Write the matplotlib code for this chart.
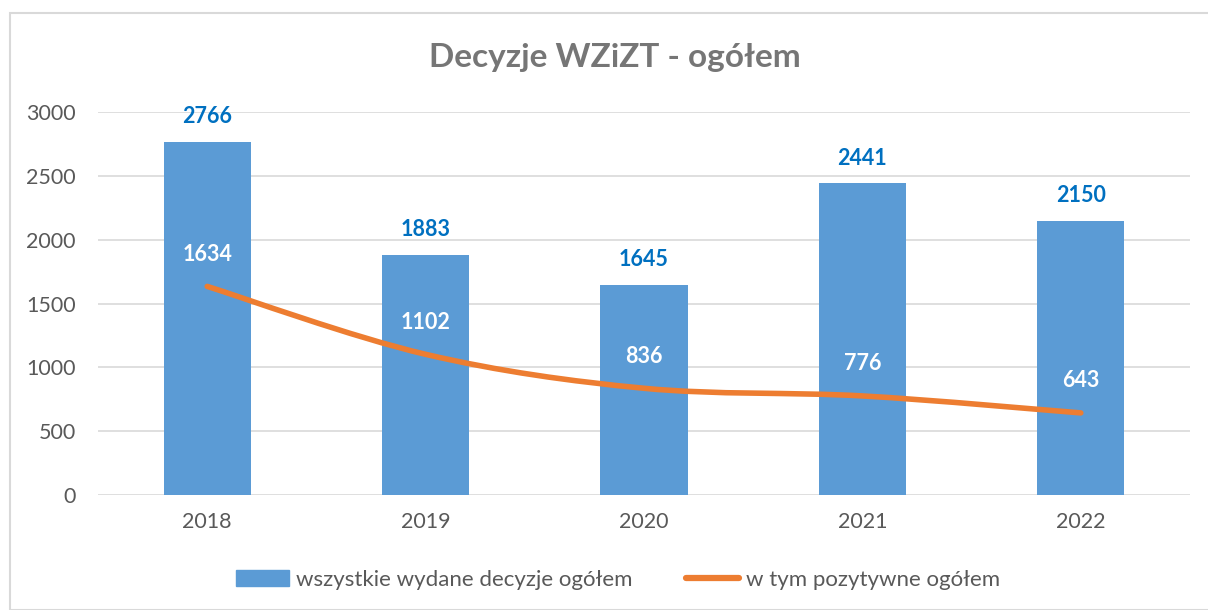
import matplotlib
matplotlib.use("Agg")
import matplotlib.pyplot as plt
from matplotlib.patches import Rectangle
from matplotlib.path import Path
from matplotlib.patches import PathPatch
from matplotlib.lines import Line2D
import numpy as np

years = ["2018", "2019", "2020", "2021", "2022"]
all_decisions = [2766, 1883, 1645, 2441, 2150]
positive = [1634, 1102, 836, 776, 643]

title = "Decyzje WZiZT - ogółem"
label_all = "wszystkie wydane decyzje ogółem"
label_pos = "w tym pozytywne ogółem"

plt.rcParams['font.family'] = ['Lato', 'DejaVu Sans']

W, H = 1208, 610
fig = plt.figure(figsize=(W / 100, H / 100), dpi=100)

# outer frame
fig.patches.append(Rectangle((10 / W, 0), 1.2, 1 - 13 / H, transform=fig.transFigure,
                             fill=False, edgecolor='#d9d9d9', linewidth=1.5))

ax = fig.add_axes([98 / W, 1 - 495 / H, (1190 - 98) / W, (495 - 112) / H])
x = np.arange(len(years))
blue = '#5b9bd5'
orange = '#ed7d31'
ax.bar(x, all_decisions, width=0.4, color=blue, zorder=2)

# smooth line (Catmull-Rom -> Bezier) through the data points
pts = np.column_stack([x, positive]).astype(float)
verts = [tuple(pts[0])]
codes = [Path.MOVETO]
for i in range(len(pts) - 1):
    p0 = pts[i - 1] if i > 0 else pts[i]
    p1 = pts[i]
    p2 = pts[i + 1]
    p3 = pts[i + 2] if i + 2 < len(pts) else pts[i + 1]
    c1 = p1 + (p2 - p0) / 6
    c2 = p2 - (p3 - p1) / 6
    verts += [tuple(c1), tuple(c2), tuple(p2)]
    codes += [Path.CURVE4] * 3
ax.add_patch(PathPatch(Path(verts, codes), fill=False, edgecolor=orange,
                       linewidth=4, capstyle='round', joinstyle='round', zorder=3))

for xi, v in zip(x, all_decisions):
    ax.annotate(str(v), (xi, v), xytext=(0, 18), textcoords='offset points',
                ha='center', va='center', color='#0070c0', fontsize=15.5, fontweight='bold')
for xi, v in zip(x, positive):
    ax.annotate(str(v), (xi, v), xytext=(0, 23), textcoords='offset points',
                ha='center', va='center', color='white', fontsize=15.5, fontweight='bold', zorder=4)

ax.set_xlim(-0.5, len(years) - 0.5)
ax.set_ylim(0, 3000)
ax.set_yticks(range(0, 3001, 500))
ax.set_xticks(x)
ax.set_xticklabels(years)
ax.grid(axis='y', color='#d9d9d9', linewidth=1.2, zorder=0)
ax.set_axisbelow(True)
for s in ax.spines.values():
    s.set_visible(False)
ax.tick_params(axis='both', length=0, labelsize=15.5, colors='#595959')
ax.tick_params(axis='x', pad=12)
ax.tick_params(axis='y', pad=16)

fig.text(615 / W, 1 - 58 / H, title, ha='center', va='center', fontsize=24,
         fontweight='bold', color='#767676')

handles = [Rectangle((0, 0), 1, 1, color=blue),
           Line2D([0], [0], color=orange, linewidth=4.5, solid_capstyle='round')]
fig.legend(handles, [label_all, label_pos], loc='center', bbox_to_anchor=(618 / W, 1 - 580 / H),
           ncol=2, frameon=False, fontsize=16, labelcolor='#595959', handlelength=2.4,
           handletextpad=0.3, columnspacing=2.4, borderpad=0)

fig.savefig("out.png", dpi=100)
